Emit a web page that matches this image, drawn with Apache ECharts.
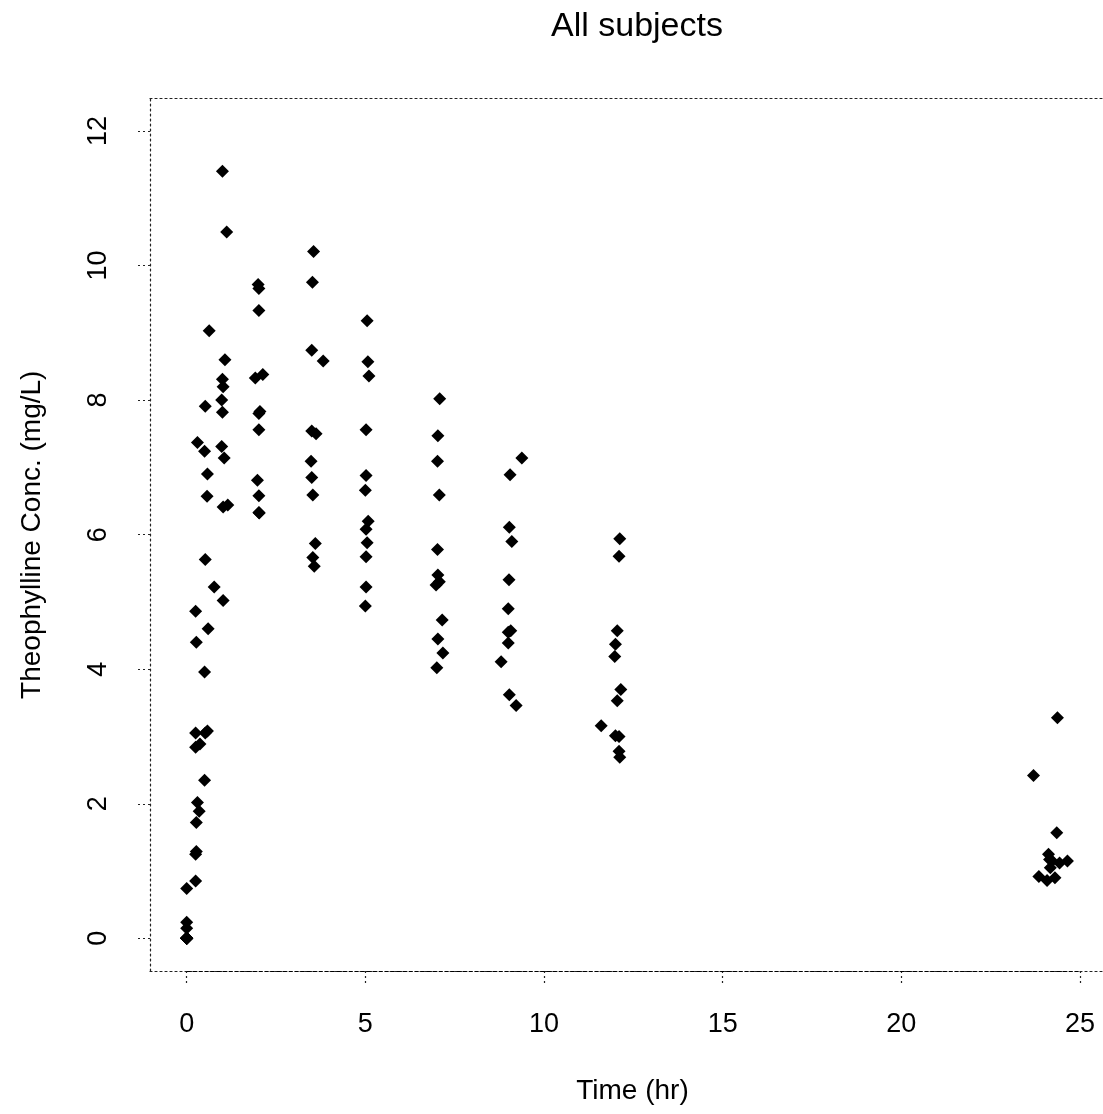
<!DOCTYPE html>
<html>
<head>
<meta charset="utf-8">
<script src="https://cdn.jsdelivr.net/npm/echarts@6/dist/echarts.min.js"></script>
<style>
html,body{margin:0;padding:0;background:#fff;}
#chart{width:1103px;height:1114px;}
</style>
</head>
<body>
<div id="chart"></div>
<script>
// Theophylline: 12 subjects x 11 samples
var timeHr = [
  0.00,0.25,0.57,1.12,2.02,3.82,5.10,7.03,9.05,12.12,24.37,
  0.00,0.27,0.52,1.00,1.92,3.50,5.02,7.03,9.00,12.00,24.30,
  0.00,0.27,0.58,1.02,2.02,3.62,5.08,7.07,9.00,12.15,24.17,
  0.00,0.35,0.60,1.07,2.13,3.50,5.02,7.02,9.02,11.98,24.65,
  0.00,0.30,0.52,1.00,2.02,3.50,5.02,7.02,9.10,12.00,24.35,
  0.00,0.27,0.58,1.15,2.03,3.57,5.00,7.00,9.22,12.10,23.85,
  0.00,0.25,0.50,1.02,2.02,3.48,5.00,6.98,9.00,12.05,24.22,
  0.00,0.25,0.52,0.98,2.02,3.53,5.05,7.15,9.07,12.10,24.12,
  0.00,0.30,0.63,1.05,2.02,3.53,5.02,7.17,8.80,11.60,24.43,
  0.00,0.37,0.77,1.02,2.05,3.55,5.05,7.08,9.38,12.10,23.70,
  0.00,0.25,0.50,0.98,1.98,3.60,5.02,7.03,9.03,12.12,24.08,
  0.00,0.25,0.50,1.00,2.00,3.52,5.07,7.07,9.03,12.05,24.15
];
var concMgL = [
  0.74,2.84,6.57,10.50,9.66,8.58,8.36,7.47,6.89,5.94,3.28,
  0.00,1.72,7.91,8.31,8.33,6.85,6.08,5.40,4.55,3.01,0.90,
  0.00,4.40,6.90,8.20,7.80,7.50,6.20,5.30,4.90,3.70,1.05,
  0.00,1.89,4.60,8.60,8.38,7.54,6.88,5.78,5.33,4.19,1.15,
  0.00,2.02,5.63,11.40,9.33,8.74,7.56,7.09,5.90,4.37,1.57,
  0.00,1.29,3.08,6.44,6.32,5.53,4.94,4.02,3.46,2.78,0.92,
  0.15,0.85,2.35,5.02,6.58,7.09,6.66,5.25,4.39,3.53,1.15,
  0.00,3.05,3.05,7.31,7.56,6.59,5.88,4.73,4.57,3.00,1.25,
  0.00,7.37,9.03,7.14,6.33,5.66,5.67,4.24,4.11,3.16,1.12,
  0.24,2.89,5.22,6.41,7.83,10.21,9.18,8.02,7.14,5.68,2.42,
  0.00,4.86,7.24,8.00,6.81,5.87,5.22,4.45,3.62,2.69,0.86,
  0.00,1.25,3.96,7.82,9.72,9.75,8.57,6.59,6.11,4.57,1.17
];
var xTickValues = [0,5,10,15,20,25];
var yTickValues = [0,2,4,6,8,10,12];
var titleText = 'All subjects';
var xTitle = 'Time (hr)';
var yTitle = 'Theophylline Conc. (mg/L)';

var xMin = -1.027, xMax = 25.645;
var yMin = -0.486, yMax = 12.483;

var points = timeHr.map(function(t, i){ return [t, concMgL[i]]; });

var font = 'Liberation Sans, Arial, Helvetica, sans-serif';
var dotted = {color:'#222', width:1.2, type:[2,3]};

var chart = echarts.init(document.getElementById('chart'), null, {renderer:'canvas'});
chart.setOption({
  animation:false,
  backgroundColor:'#fff',
  title:{
    text:titleText, left:632, top:5, textAlign:'center',
    textStyle:{fontFamily:font, fontSize:34, fontWeight:'normal', color:'#000'}
  },
  grid:{left:150, top:98.5, right:0, bottom:143, containLabel:false},
  xAxis:[{
    type:'value', min:xMin, max:xMax, position:'bottom',
    name:xTitle, nameLocation:'middle', nameGap:106,
    nameTextStyle:{fontFamily:font, fontSize:28, color:'#000', padding:[0,0,0,12]},
    axisLine:{show:true, onZero:false, lineStyle:dotted},
    axisTick:{show:true, length:15, inside:false, customValues:xTickValues, lineStyle:dotted},
    axisLabel:{show:true, margin:40, customValues:xTickValues, fontFamily:font, fontSize:27, color:'#000'},
    splitLine:{show:false}
  },{
    type:'value', min:xMin, max:xMax, position:'top',
    axisLine:{show:true, onZero:false, lineStyle:dotted},
    axisTick:{show:false}, axisLabel:{show:false}, splitLine:{show:false}
  }],
  yAxis:[{
    type:'value', min:yMin, max:yMax, position:'left',
    name:yTitle, nameLocation:'middle', nameGap:104, nameRotate:90,
    nameTextStyle:{fontFamily:font, fontSize:28, color:'#000'},
    axisLine:{show:true, onZero:false, lineStyle:dotted},
    axisTick:{show:true, length:13, inside:false, customValues:yTickValues, lineStyle:dotted},
    axisLabel:{show:true, rotate:90, margin:38, customValues:yTickValues, fontFamily:font, fontSize:27, color:'#000'},
    splitLine:{show:false}
  }],
  series:[{
    type:'scatter', xAxisIndex:0, yAxisIndex:0,
    data:points, symbol:'diamond', symbolSize:13,
    itemStyle:{color:'#000', opacity:1},
    emphasis:{disabled:true},
    markLine:{
      silent:true, symbol:['none','none'], label:{show:false},
      lineStyle:{color:'#000', width:1, type:[4,2]},
      data:[[{coord:[xTickValues[0], yMin]},{coord:[xTickValues[xTickValues.length-1], yMin]}]]
    }
  }]
});
</script>
</body>
</html>
